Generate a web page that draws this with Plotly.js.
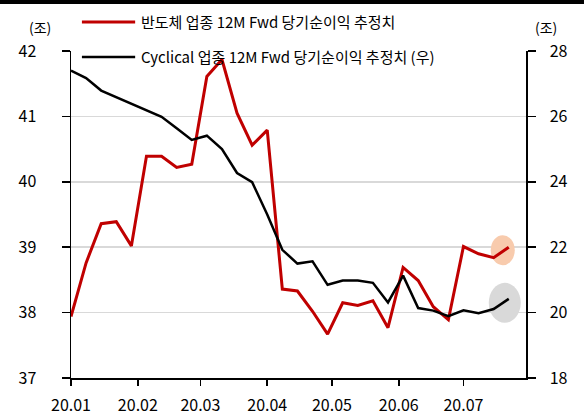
<!DOCTYPE html>
<html>
<head>
<meta charset="utf-8">
<script src="https://cdn.plot.ly/plotly-3.0.1.min.js"></script>
<style>
html,body{margin:0;padding:0;background:#fff;}
#topbar{position:absolute;left:0;top:0;width:584px;height:4px;background:#000;z-index:10;}
#chart{width:584px;height:416px;}
</style>
</head>
<body>
<div id="topbar"></div>
<div id="chart"></div>
<script>
const dates = ['2020-01-01','2020-01-08','2020-01-15','2020-01-22','2020-01-29','2020-02-05','2020-02-12','2020-02-19','2020-02-26','2020-03-04','2020-03-11','2020-03-18','2020-03-25','2020-04-01','2020-04-08','2020-04-15','2020-04-22','2020-04-29','2020-05-06','2020-05-13','2020-05-20','2020-05-27','2020-06-03','2020-06-10','2020-06-17','2020-06-24','2020-07-01','2020-07-08','2020-07-15','2020-07-22'];
const semiName = '반도체 업종 12M Fwd 당기순이익 추정치';
const semiValues = [37.94,38.76,39.36,39.39,39.02,40.39,40.39,40.22,40.27,41.61,41.87,41.05,40.56,40.79,38.36,38.33,38.02,37.67,38.15,38.11,38.18,37.77,38.69,38.49,38.09,37.89,39.01,38.90,38.84,39.00];
const cycName = 'Cyclical 업종 12M Fwd 당기순이익 추정치 (우)';
const cycValues = [27.40,27.17,26.79,26.59,26.40,26.18,25.99,25.64,25.28,25.41,25.00,24.27,23.99,23.00,21.92,21.50,21.57,20.85,20.98,20.98,20.91,20.31,21.13,20.14,20.06,19.89,20.07,19.98,20.11,20.42];
const leftTicks = [37,38,39,40,41,42];
const rightTicks = [18,20,22,24,26,28];
const unitLabel = '(조)';

const FONT = '"Noto Sans CJK KR", "Noto Sans", sans-serif';
const RED = '#c00000', BLACK = '#000000';
const lastIdx = dates.length - 1;
const leftRange = [37, 42], rightRange = [18, 28];
// map a right-axis value onto the left axis scale (for the highlight ellipse layer)
const rightToLeft = v => leftRange[0] + (v - rightRange[0]) * (leftRange[1] - leftRange[0]) / (rightRange[1] - rightRange[0]);

const traces = [
  {x: dates, y: semiValues, name: semiName, type: 'scatter', mode: 'lines',
   line: {color: RED, width: 3}, yaxis: 'y'},
  {x: dates, y: cycValues, name: cycName, type: 'scatter', mode: 'lines',
   line: {color: BLACK, width: 2.5}, yaxis: 'y2'}
];

// manual legend (paper coordinates)
const legendRows = [
  {name: semiName, color: RED, width: 3, y: 1.089},
  {name: cycName, color: BLACK, width: 2.5, y: 0.982}
];
const legendShapes = legendRows.map(r => ({type: 'line', xref: 'paper', yref: 'paper',
  x0: 0.024, x1: 0.141, y0: r.y, y1: r.y, line: {color: r.color, width: r.width}}));
const legendTexts = legendRows.map(r => ({text: r.name, xref: 'paper', yref: 'paper',
  x: 0.150, y: r.y, xanchor: 'left', yanchor: 'middle', showarrow: false, font: {size: 15}}));

const layout = {
  width: 584, height: 416,
  margin: {l: 71, r: 58, t: 51, b: 38},
  paper_bgcolor: '#fff', plot_bgcolor: '#fff',
  font: {family: FONT, size: 16, color: '#000'},
  showlegend: false,
  xaxis: {type: 'date', range: ['2020-01-01', '2020-07-30'], tick0: '2020-01-01', dtick: 'M1',
          tickformat: '%y.%m', showgrid: false, showline: true, linecolor: '#000', linewidth: 1.5,
          ticks: 'outside', ticklen: 6, tickcolor: '#000', tickwidth: 1.5, zeroline: false,
          ticklabelstandoff: 6, tickfont: {size: 16}},
  yaxis: {range: leftRange, tickvals: leftTicks, showgrid: true, gridcolor: '#d9d9d9', gridwidth: 1.5,
          showline: true, linecolor: '#000', linewidth: 1.5, ticks: 'outside', ticklen: 8,
          tickcolor: '#000', tickwidth: 1.5, zeroline: false, ticklabelstandoff: 22,
          tickfont: {size: 16}},
  yaxis2: {range: rightRange, tickvals: rightTicks, overlaying: 'y', side: 'right', showgrid: false,
           showline: true, linecolor: '#000', linewidth: 1.5, ticks: 'outside', ticklen: 8,
           tickcolor: '#000', tickwidth: 1.5, zeroline: false, ticklabelstandoff: 11,
           tickfont: {size: 16}},
  shapes: [
    {type: 'circle', layer: 'between', xref: 'x', yref: 'y', xsizemode: 'pixel', ysizemode: 'pixel',
     xanchor: dates[lastIdx], yanchor: semiValues[lastIdx], x0: -18, x1: 6, y0: -18, y1: 12,
     fillcolor: '#f8cbad', line: {width: 0}},
    {type: 'circle', layer: 'between', xref: 'x', yref: 'y', xsizemode: 'pixel', ysizemode: 'pixel',
     xanchor: dates[lastIdx], yanchor: rightToLeft(cycValues[lastIdx]), x0: -20, x1: 12, y0: -24, y1: 16,
     fillcolor: '#d9d9d9', line: {width: 0}}
  ].concat(legendShapes),
  annotations: [
    {text: unitLabel, xref: 'paper', yref: 'paper', x: -0.068, y: 1.073, xanchor: 'center', yanchor: 'middle',
     showarrow: false, font: {size: 14}},
    {text: unitLabel, xref: 'paper', yref: 'paper', x: 1.045, y: 1.073, xanchor: 'center', yanchor: 'middle',
     showarrow: false, font: {size: 14}}
  ].concat(legendTexts)
};

Plotly.newPlot('chart', traces, layout, {displayModeBar: false, staticPlot: true});
</script>
</body>
</html>
